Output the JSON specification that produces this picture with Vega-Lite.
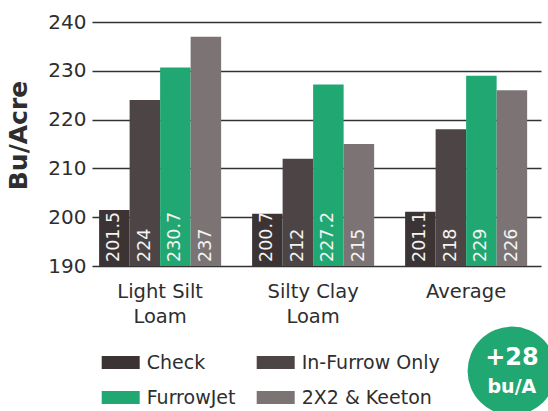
{
  "$schema": "https://vega.github.io/schema/vega-lite/v6.json",
  "width": 449,
  "height": 244,
  "autosize": {"type": "none"},
  "padding": {"left": 92, "top": 22, "right": 7, "bottom": 145},
  "background": "white",
  "config": {"view": {"stroke": null}, "font": "DejaVu Sans"},
  "datasets": {
    "yields": [
      {"soil": "Light Silt Loam", "treatment": "Check", "yield": 201.5},
      {"soil": "Light Silt Loam", "treatment": "In-Furrow Only", "yield": 224},
      {"soil": "Light Silt Loam", "treatment": "FurrowJet", "yield": 230.7},
      {"soil": "Light Silt Loam", "treatment": "2X2 & Keeton", "yield": 237},
      {"soil": "Silty Clay Loam", "treatment": "Check", "yield": 200.7},
      {"soil": "Silty Clay Loam", "treatment": "In-Furrow Only", "yield": 212},
      {"soil": "Silty Clay Loam", "treatment": "FurrowJet", "yield": 227.2},
      {"soil": "Silty Clay Loam", "treatment": "2X2 & Keeton", "yield": 215},
      {"soil": "Average", "treatment": "Check", "yield": 201.1},
      {"soil": "Average", "treatment": "In-Furrow Only", "yield": 218},
      {"soil": "Average", "treatment": "FurrowJet", "yield": 229},
      {"soil": "Average", "treatment": "2X2 & Keeton", "yield": 226}
    ],
    "badge": [
      {"soil": "Average", "treatment": "2X2 & Keeton", "big": "+28", "small": "bu/A"}
    ]
  },
  "encoding": {
    "x": {
      "field": "soil",
      "type": "nominal",
      "title": null,
      "scale": {
        "domain": ["Light Silt Loam", "Silty Clay Loam", "Average"],
        "paddingInner": 0.2024,
        "paddingOuter": 0.0685,
        "align": 0.339
      },
      "axis": {
        "domain": false,
        "ticks": false,
        "labelAngle": 0,
        "labelFontSize": 19.5,
        "labelColor": "#2e2e2e",
        "labelBaseline": "alphabetic",
        "labelPadding": 31.7,
        "labelLineHeight": 24.6,
        "labelExpr": "split(replace(datum.label, ' Loam', '|Loam'), '|')"
      }
    },
    "xOffset": {
      "field": "treatment",
      "type": "nominal",
      "scale": {
        "domain": ["Check", "In-Furrow Only", "FurrowJet", "2X2 & Keeton"],
        "paddingInner": 0,
        "paddingOuter": 0
      }
    }
  },
  "layer": [
    {
      "data": {"name": "yields"},
      "mark": {"type": "bar"},
      "encoding": {
        "y": {
          "field": "yield",
          "type": "quantitative",
          "scale": {"domain": [190, 240], "nice": false, "zero": false},
          "axis": {
            "values": [190, 200, 210, 220, 230, 240],
            "domain": false,
            "ticks": false,
            "grid": true,
            "gridColor": "#333333",
            "gridWidth": 1.4,
            "gridOpacity": 1,
            "labelFontSize": 20,
            "labelColor": "#2e2e2e",
            "labelPadding": 6,
            "title": "Bu/Acre",
            "titleFontSize": 25,
            "titleFontWeight": "bold",
            "titleColor": "#2e2e2e",
            "titleX": -74,
            "titleY": 113,
            "titleAngle": 270,
            "titleAlign": "center",
            "titleBaseline": "middle"
          }
        },
        "y2": {"datum": 190},
        "color": {
          "field": "treatment",
          "type": "nominal",
          "scale": {
            "domain": ["Check", "In-Furrow Only", "FurrowJet", "2X2 & Keeton"],
            "range": ["#3c3434", "#4d4545", "#21a872", "#7c7474"]
          },
          "legend": {
            "orient": "none",
            "legendX": 9.7,
            "legendY": 321.5,
            "columns": 2,
            "direction": "horizontal",
            "title": null,
            "padding": 0,
            "symbolType": "M-1,-0.342H1V0.342H-1Z",
            "symbolSize": 1444,
            "symbolStrokeWidth": 0,
            "symbolOpacity": 1,
            "labelFontSize": 19,
            "labelColor": "#2e2e2e",
            "labelOffset": 7,
            "labelLimit": 300,
            "columnPadding": 21,
            "rowPadding": 6
          }
        }
      }
    },
    {
      "data": {"name": "yields"},
      "mark": {
        "type": "text",
        "angle": 270,
        "align": "left",
        "baseline": "middle",
        "dx": 4,
        "fontSize": 17.5,
        "color": "#f4f4f4"
      },
      "encoding": {
        "y": {"datum": 190},
        "text": {"field": "yield", "type": "quantitative"}
      }
    },
    {
      "data": {"name": "badge"},
      "mark": {"type": "circle", "size": 7850, "color": "#21a872", "opacity": 1},
      "encoding": {
        "y": {"datum": 168.5}
      }
    },
    {
      "data": {"name": "badge"},
      "mark": {
        "type": "text",
        "align": "center",
        "baseline": "alphabetic",
        "fontSize": 24,
        "fontWeight": "bold",
        "color": "white"
      },
      "encoding": {
        "y": {"datum": 169.7},
        "text": {"field": "big", "type": "nominal"}
      }
    },
    {
      "data": {"name": "badge"},
      "mark": {
        "type": "text",
        "align": "center",
        "baseline": "alphabetic",
        "fontSize": 19,
        "fontWeight": "bold",
        "color": "white"
      },
      "encoding": {
        "y": {"datum": 164.0},
        "text": {"field": "small", "type": "nominal"}
      }
    }
  ]
}
